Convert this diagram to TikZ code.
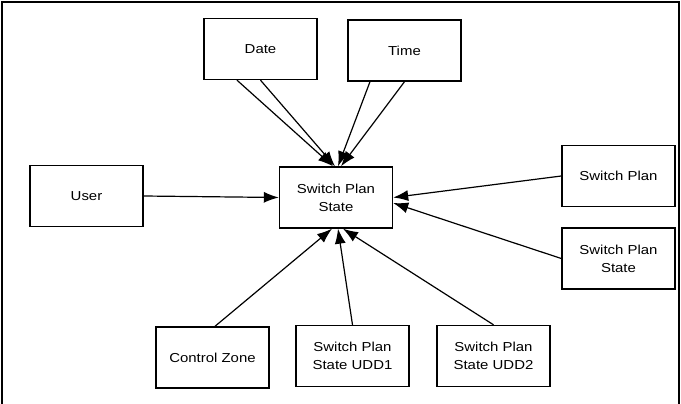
\documentclass[tikz,border=0pt]{standalone}
\usepackage{fontspec}
\setmainfont{Liberation Sans}[FakeStretch=1.15]
\usetikzlibrary{arrows.meta}

\begin{document}
\begin{tikzpicture}[x=1pt,y=-1pt,
	box/.style={draw,line width=1.4pt,minimum width=113pt,minimum height=61pt,inner sep=2pt,align=center,
		font=\fontsize{13}{18}\selectfont},
	flow/.style={draw,line width=1.2pt,-{Latex[length=15pt,width=11pt]}}]
\useasboundingbox (0,0) rectangle (681,404);
\draw[line width=2pt] (2,404) -- (2,2) -- (679,2) -- (679,404);

\node[box]   (spstate)   at (336,197.5)    {Switch Plan\\State};
 \node[box]  (date)      at (260.5,49)     {Date};
	\node[box]  (time)   at (404.5,50.5)   {Time};
	\node[box]  (user)   at (86.5,196)     {User};
	\node[box]  (splan)  at (618.5,176)    {Switch Plan};
	\node[box]  (splanstate) at (618.5,258.5) {Switch Plan\\State};
	\node[box]  (czone)  at (212.5,357.5)  {Control Zone};
	\node[box]  (udd1)   at (352.5,356)    {Switch Plan\\State UDD1};
	\node[box]  (udd2)   at (493.5,356)    {Switch Plan\\State UDD2};

	\path ([xshift=-23.5pt]date.south)  edge[flow]  ([xshift=-3pt]spstate.north)
						(date.south)  edge[flow]  ([xshift=-1pt]spstate.north)
					([xshift=-34.5pt]time.south) edge[flow]  ([xshift=2pt]spstate.north)
						(time.south)  edge[flow]  ([xshift=5pt]spstate.north)
				(user.east)  edge[flow]  (spstate.west)
				(splan.west)  edge[flow]  (spstate.east)
				(splanstate.west)  edge[flow]  ([yshift=-5.5pt]spstate.east)
			([xshift=2.5pt]czone.north)  edge[flow]  ([xshift=-4pt]spstate.south)
				(udd1.north)  edge[flow]  ([xshift=2pt]spstate.south)
				(udd2.north)  edge[flow]  ([xshift=7pt]spstate.south);
\end{tikzpicture}
\end{document}
